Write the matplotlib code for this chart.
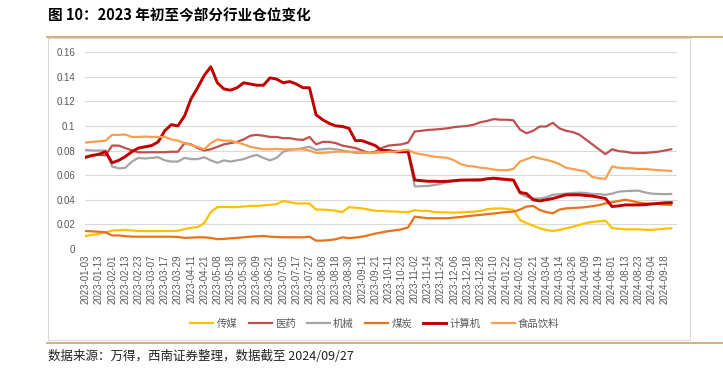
import matplotlib.pyplot as plt
import numpy as np

plt.rcParams['font.family'] = ['Noto Sans CJK SC', 'DejaVu Sans']

# tick labels (every 8 trading days)
date_labels = ['2023-01-03', '2023-01-13', '2023-02-01', '2023-02-13', '2023-02-23',
               '2023-03-07', '2023-03-17', '2023-03-29', '2023-04-11', '2023-04-21',
               '2023-05-08', '2023-05-18', '2023-05-30', '2023-06-09', '2023-06-21',
               '2023-07-05', '2023-07-17', '2023-07-27', '2023-08-08', '2023-08-18',
               '2023-08-30', '2023-09-11', '2023-09-21', '2023-10-11', '2023-10-23',
               '2023-11-02', '2023-11-14', '2023-11-24', '2023-12-06', '2023-12-18',
               '2023-12-28', '2024-01-10', '2024-01-22', '2024-02-01', '2024-02-21',
               '2024-03-04', '2024-03-14', '2024-03-26', '2024-04-09', '2024-04-19',
               '2024-08-01', '2024-08-13', '2024-08-23', '2024-09-04', '2024-09-18']

# one value every 4 trading days
media = [0.0106, 0.0115, 0.0123, 0.0135, 0.015, 0.0152, 0.0155, 0.015, 0.0146, 0.0146,
         0.0146, 0.0146, 0.0146, 0.0146, 0.0148, 0.0162, 0.0172, 0.0178, 0.021, 0.030,
         0.034, 0.0342, 0.034, 0.034, 0.0345, 0.035, 0.035, 0.0355, 0.0358, 0.0365,
         0.039, 0.038, 0.037, 0.037, 0.037, 0.032, 0.032, 0.0317, 0.031, 0.030,
         0.034, 0.0335, 0.033, 0.032, 0.031, 0.031, 0.0305, 0.0305, 0.030, 0.030,
         0.0315, 0.031, 0.031, 0.030, 0.0298, 0.0297, 0.0295, 0.0297, 0.030, 0.0303,
         0.031, 0.0323, 0.0328, 0.033, 0.0325, 0.0317, 0.0236, 0.021, 0.019, 0.0168,
         0.0155, 0.0146, 0.0155, 0.0168, 0.018, 0.0195, 0.021, 0.022, 0.0225, 0.023,
         0.017, 0.0165, 0.016, 0.016, 0.016, 0.0157, 0.0155, 0.016, 0.0165, 0.0168]

pharma = [0.075, 0.076, 0.0765, 0.076, 0.084, 0.084, 0.082, 0.080, 0.0785, 0.0785,
          0.0786, 0.0786, 0.0786, 0.079, 0.079, 0.086, 0.085, 0.082, 0.080, 0.081,
          0.083, 0.085, 0.086, 0.087, 0.089, 0.092, 0.0927, 0.092, 0.091, 0.091,
          0.090, 0.090, 0.089, 0.0886, 0.091, 0.085, 0.087, 0.087, 0.086, 0.084,
          0.083, 0.082, 0.080, 0.078, 0.079, 0.082, 0.084, 0.0845, 0.085, 0.0865,
          0.0955, 0.096, 0.0967, 0.097, 0.0975, 0.098, 0.099, 0.0995, 0.100, 0.101,
          0.103, 0.104, 0.1055, 0.105, 0.105, 0.1045, 0.097, 0.094, 0.096, 0.0995,
          0.0995, 0.1025, 0.098, 0.096, 0.095, 0.093, 0.089, 0.085, 0.081, 0.077,
          0.081, 0.0795, 0.079, 0.078, 0.078, 0.078, 0.0785, 0.079, 0.080, 0.081]

machinery = [0.0805, 0.080, 0.080, 0.080, 0.067, 0.0655, 0.066, 0.071, 0.074, 0.0735,
             0.074, 0.0745, 0.072, 0.071, 0.071, 0.074, 0.073, 0.073, 0.0745, 0.072,
             0.070, 0.072, 0.071, 0.072, 0.073, 0.075, 0.0764, 0.074, 0.072, 0.074,
             0.079, 0.0805, 0.081, 0.082, 0.083, 0.0805, 0.081, 0.0815, 0.081, 0.080,
             0.079, 0.078, 0.078, 0.078, 0.0785, 0.079, 0.079, 0.079, 0.079, 0.079,
             0.0508, 0.051, 0.0512, 0.052, 0.053, 0.0545, 0.055, 0.0555, 0.056, 0.0565,
             0.0567, 0.057, 0.057, 0.0565, 0.056, 0.056, 0.045, 0.0425, 0.041, 0.041,
             0.042, 0.044, 0.0445, 0.045, 0.0455, 0.0458, 0.0455, 0.0447, 0.0445, 0.044,
             0.045, 0.0465, 0.047, 0.0472, 0.0474, 0.046, 0.045, 0.0447, 0.0445, 0.0447]

coal = [0.0146, 0.0143, 0.014, 0.0135, 0.011, 0.011, 0.0105, 0.010, 0.010, 0.010,
        0.010, 0.010, 0.010, 0.010, 0.0098, 0.009, 0.0092, 0.0095, 0.0095, 0.009,
        0.008, 0.0082, 0.0087, 0.009, 0.0095, 0.010, 0.0103, 0.0106, 0.010, 0.0097,
        0.0095, 0.0095, 0.0095, 0.0095, 0.010, 0.0068, 0.0068, 0.0072, 0.0079, 0.0095,
        0.0088, 0.0093, 0.010, 0.0112, 0.0125, 0.0135, 0.0145, 0.0152, 0.016, 0.0176,
        0.0263, 0.0256, 0.025, 0.025, 0.025, 0.025, 0.0255, 0.026, 0.0267, 0.0272,
        0.0277, 0.0283, 0.0288, 0.0295, 0.030, 0.0303, 0.032, 0.0345, 0.035, 0.0317,
        0.030, 0.029, 0.032, 0.033, 0.0333, 0.0336, 0.034, 0.0348, 0.0356, 0.037,
        0.038, 0.039, 0.040, 0.039, 0.0377, 0.037, 0.0368, 0.0366, 0.036, 0.0358]

computer = [0.0745, 0.076, 0.077, 0.079, 0.070, 0.072, 0.075, 0.079, 0.082, 0.083,
            0.084, 0.087, 0.096, 0.101, 0.100, 0.108, 0.122, 0.131, 0.141, 0.148,
            0.135, 0.130, 0.129, 0.131, 0.135, 0.134, 0.133, 0.133, 0.139, 0.138,
            0.135, 0.136, 0.134, 0.131, 0.131, 0.109, 0.105, 0.102, 0.100, 0.0995,
            0.098, 0.088, 0.088, 0.086, 0.084, 0.080, 0.080, 0.079, 0.079, 0.079,
            0.056, 0.0555, 0.055, 0.055, 0.0548, 0.055, 0.0555, 0.056, 0.056, 0.056,
            0.056, 0.057, 0.0575, 0.057, 0.0565, 0.056, 0.046, 0.045, 0.040, 0.039,
            0.040, 0.041, 0.0425, 0.044, 0.044, 0.044, 0.0435, 0.043, 0.042, 0.041,
            0.0345, 0.035, 0.0358, 0.0358, 0.0358, 0.036, 0.0365, 0.037, 0.0375, 0.0377]

food = [0.0865, 0.087, 0.0875, 0.088, 0.0927, 0.0927, 0.093, 0.091, 0.091, 0.0913,
        0.091, 0.091, 0.091, 0.089, 0.088, 0.086, 0.0845, 0.083, 0.081, 0.086,
        0.089, 0.088, 0.088, 0.0865, 0.085, 0.083, 0.082, 0.081, 0.081, 0.0813,
        0.081, 0.081, 0.081, 0.081, 0.080, 0.078, 0.078, 0.0785, 0.079, 0.079,
        0.079, 0.079, 0.0785, 0.078, 0.078, 0.0785, 0.079, 0.079, 0.080, 0.0805,
        0.078, 0.077, 0.076, 0.075, 0.0745, 0.074, 0.072, 0.069, 0.0675, 0.067,
        0.066, 0.0655, 0.0645, 0.064, 0.064, 0.065, 0.071, 0.073, 0.075, 0.0735,
        0.0724, 0.071, 0.069, 0.066, 0.065, 0.064, 0.063, 0.0585, 0.0575, 0.057,
        0.067, 0.066, 0.0655, 0.0655, 0.065, 0.065, 0.0645, 0.064, 0.0637, 0.0634]

names = ['传媒', '医药', '机械', '煤炭', '计算机', '食品饮料']
colors = ['#FFC000', '#C0504D', '#A5A5A5', '#E8711A', '#C00000', '#F9A050']
widths = [1.6, 1.6, 1.6, 1.6, 2.1, 1.6]
series = [media, pharma, machinery, coal, computer, food]

fig = plt.figure(figsize=(7.23, 3.80), dpi=100)
ax = fig.add_axes([85 / 723, 1 - 249 / 380, (677 - 85) / 723, (249 - 52) / 380])

x = np.arange(len(media)) * 4
for name, vals, c, lw in zip(names, series, colors, widths):
    ax.plot(x, vals, color=c, lw=lw, label=name, solid_joinstyle='round')

ax.set_ylim(0, 0.16)
ax.set_yticks(np.arange(0, 0.161, 0.02))
ax.set_yticklabels(['0', '0.02', '0.04', '0.06', '0.08', '0.1', '0.12', '0.14', '0.16'],
                   family='Liberation Sans', fontsize=7, color='#595959')
ax.set_xlim(-0.5, 359.5)
ax.set_xticks(np.arange(len(date_labels)) * 8)
ax.set_xticklabels(date_labels, rotation=90, family='Liberation Sans', fontsize=7, color='#595959')
ax.tick_params(length=0)
ax.tick_params(axis='y', pad=7)
ax.tick_params(axis='x', pad=4)
ax.grid(axis='y', color='#D9D9D9', lw=0.8)
ax.set_axisbelow(True)
for s in ax.spines.values():
    s.set_visible(False)

fig.legend(loc='center', bbox_to_anchor=(375 / 723, 1 - 324 / 380), ncol=6, frameon=False,
           fontsize=7.5, handlelength=2.2, handletextpad=0.3, columnspacing=1.1,
           labelcolor='#595959')

# report frame
fig.text(48 / 723, 1 - 15 / 380, '图 10：2023 年初至今部分行业仓位变化', fontsize=10.5,
         fontweight='bold', va='center', ha='left')
fig.add_artist(plt.Line2D([47 / 723, 1], [1 - 36.5 / 380] * 2, color='#C8A36A', lw=1.2))
fig.add_artist(plt.Line2D([47 / 723, 1], [1 - 343 / 380] * 2, color='#C8A36A', lw=1.2))
fig.add_artist(plt.Rectangle((48 / 723, 1 - 340 / 380), (690 - 48) / 723, (340 - 38) / 380,
                             fill=False, ec='#D9D9D9', lw=0.8))
fig.text(48 / 723, 1 - 357 / 380, '数据来源：万得，西南证券整理，数据截至 2024/09/27',
         fontsize=9, style='italic', va='center', ha='left', color='#222222')

fig.savefig('out.png', dpi=100)
